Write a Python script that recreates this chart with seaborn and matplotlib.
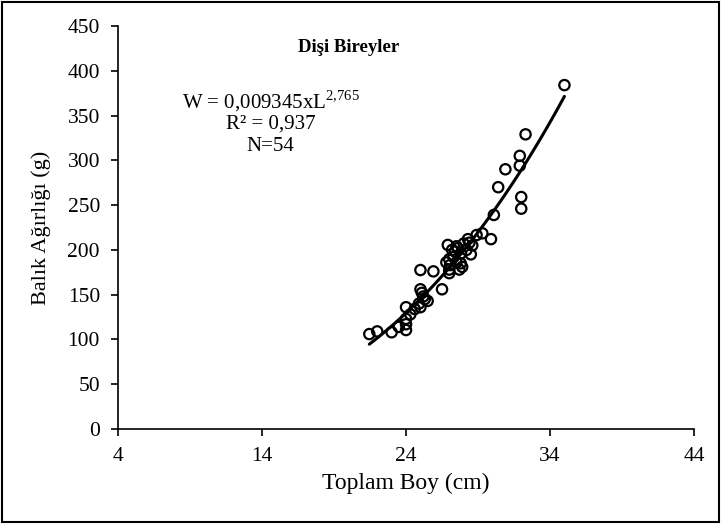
import numpy as np
import pandas as pd
import matplotlib
matplotlib.use("Agg")
import matplotlib.pyplot as plt
import seaborn as sns

# total length (cm) and weight (g)
boy = [21.45, 22.0, 23.0, 23.5, 24.0, 24.0, 24.0, 24.0, 24.6, 25.0,
       25.0, 25.2, 25.5, 25.0, 25.9, 26.5, 27.0, 27.05, 27.0, 26.9,
       27.5, 27.9, 27.8, 28.3, 28.5, 28.9, 29.3, 29.9, 30.1, 30.4,
       30.9, 31.9, 31.9, 32.3, 35.0, 32.0, 32.0,
       25.1, 25.3, 24.9, 27.2, 27.4, 27.6, 27.3, 27.8, 28.0, 28.2,
       27.0, 27.7, 28.6, 26.8, 24.3, 27.5, 28.4]
agirlik = [106, 109, 108, 114, 110.5, 117, 123, 136, 134, 136,
           156, 148, 143, 177.5, 176, 156, 174, 183, 189.5, 205.5,
           204, 181, 185, 212, 195, 216.6, 218.5, 212, 239, 270,
           290, 294, 305, 329, 384, 259, 246,
           152, 145, 140, 200, 198, 202, 192, 196, 207, 200,
           178, 178, 205, 186, 128, 186, 208]

x_ticks = [4, 14, 24, 34, 44]
y_ticks = list(range(0, 451, 50))

df = pd.DataFrame({"Boy": boy, "Agirlik": agirlik})

# power fit W = a * L^b on log scale
b, ln_a = np.polyfit(np.log(df["Boy"]), np.log(df["Agirlik"]), 1)
xs = np.linspace(df["Boy"].min(), df["Boy"].max(), 100)
fit = pd.DataFrame({"Boy": xs, "Agirlik": np.exp(ln_a) * xs ** b})

sns.set_theme(style="ticks")
plt.rcParams["font.family"] = ["Liberation Serif", "DejaVu Serif"]
plt.rcParams["mathtext.fontset"] = "custom"
plt.rcParams["mathtext.rm"] = "Liberation Serif"
plt.rcParams["text.color"] = "black"

fig = plt.figure(figsize=(7.21, 5.24), dpi=100)
ax = fig.add_axes([0.1637, 0.1813, 0.7989, 0.7691])

sns.scatterplot(data=df, x="Boy", y="Agirlik", ax=ax, marker="o",
                s=55, facecolor="none", edgecolor="black", linewidth=1.6)
sns.lineplot(data=fit, x="Boy", y="Agirlik", ax=ax, color="black", linewidth=2.2)

ax.set_xlim(4, 44)
ax.set_ylim(0, 450)
ax.set_xticks(x_ticks)
ax.set_yticks(y_ticks)
ax.tick_params(axis="both", labelsize=15.5, length=5, width=1.2, color="black",
               labelcolor="black", direction="out", pad=8)
ax.set_xlabel("Toplam Boy (cm)", fontsize=17, color="black", labelpad=5)
ax.set_ylabel("Balık Ağırlığı (g)", fontsize=16, color="black", labelpad=12)
sns.despine(ax=ax)
for s in ["left", "bottom"]:
    ax.spines[s].set_color("black")
    ax.spines[s].set_linewidth(1.2)

ax.text(20.0, 426, "Dişi Bireyler", fontsize=13.5, fontweight="bold",
        ha="center", va="center", color="black")
ax.text(14.6, 366, "W = 0,009345xL$^{2{,}765}$", fontsize=15, ha="center",
        va="center", color="black")
ax.text(14.6, 340, "R² = 0,937", fontsize=15, ha="center", va="center", color="black")
ax.text(14.6, 315, "N=54", fontsize=15, ha="center", va="center", color="black")

border = plt.Rectangle((0.003, 0.004), 0.994, 0.992, transform=fig.transFigure,
                       fill=False, edgecolor="black", linewidth=1.5)
fig.patches.append(border)

fig.savefig("out.png", dpi=100)
